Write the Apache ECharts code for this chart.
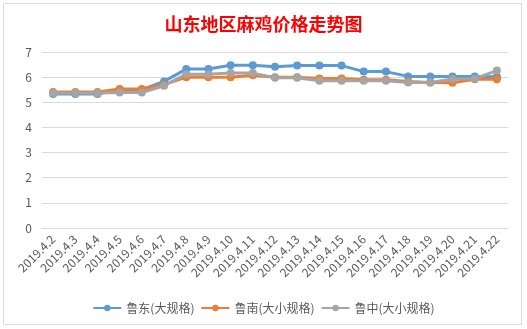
<!DOCTYPE html>
<html><head><meta charset="utf-8">
<script src="https://cdn.jsdelivr.net/npm/echarts@6/dist/echarts.min.js"></script>
<style>html,body{margin:0;padding:0;background:#fff}#c{width:527px;height:329px}</style>
</head><body><div id="c"></div>
<script>
const categories = ['2019.4.2','2019.4.3','2019.4.4','2019.4.5','2019.4.6','2019.4.7','2019.4.8','2019.4.9','2019.4.10','2019.4.11','2019.4.12','2019.4.13','2019.4.14','2019.4.15','2019.4.16','2019.4.17','2019.4.18','2019.4.19','2019.4.20','2019.4.21','2019.4.22'];
const ludong = [5.33,5.33,5.33,5.5,5.5,5.83,6.32,6.32,6.47,6.47,6.41,6.46,6.46,6.46,6.22,6.22,6.03,6.03,6.03,6.03,6.02];
const lunan = [5.41,5.41,5.41,5.53,5.53,5.7,6.0,6.0,6.0,6.08,6.0,6.0,5.95,5.95,5.9,5.9,5.83,5.79,5.78,5.92,5.92];
const luzhong = [5.37,5.37,5.37,5.39,5.39,5.66,6.12,6.12,6.16,6.16,5.98,5.98,5.86,5.86,5.86,5.86,5.79,5.79,5.93,5.94,6.26];
const seriesNames = ['鲁东(大规格)','鲁南(大小规格)','鲁中(大小规格)'];
const yTicks = [0,1,2,3,4,5,6,7];

const chart = echarts.init(document.getElementById('c'), null, {renderer:'canvas'});
const font = '"Microsoft YaHei","Noto Sans CJK SC",sans-serif';
function mk(name, data, color){
  return {name, type:'line', data, symbol:'circle', symbolSize:8,
    lineStyle:{width:3,color}, itemStyle:{color}, emphasis:{disabled:true}};
}
chart.setOption({
  animation:false,
  backgroundColor:'#fff',
  graphic:[{type:'rect', shape:{x:3.5,y:3.5,width:518,height:321}, style:{fill:'none',stroke:'#d9d9d9',lineWidth:1}, silent:true}],
  title:{text:'山东地区麻鸡价格走势图', left:'center', top:10,
    textStyle:{color:'#ff0000', fontSize:18, fontWeight:'bold', fontFamily:'"Noto Sans CJK SC",sans-serif'}},
  grid:{left:42, right:19, top:52, bottom:101, containLabel:false},
  legend:{bottom:10, left:'center', itemWidth:28, itemHeight:8, itemGap:6,
    textStyle:{color:'#595959', fontSize:12, fontFamily:font},
    data:seriesNames},
  xAxis:{type:'category', data:categories, boundaryGap:true,
    axisLine:{show:true,lineStyle:{color:'#d9d9d9'}}, axisTick:{show:false},
    axisLabel:{rotate:45, interval:0, color:'#595959', fontSize:12, fontFamily:font, margin:9}},
  yAxis:{type:'value', min:yTicks[0], max:yTicks[yTicks.length-1], interval:1,
    axisLine:{show:false}, axisTick:{show:false},
    axisLabel:{color:'#595959', fontSize:12, fontFamily:font, margin:10},
    splitLine:{lineStyle:{color:'#d9d9d9'}}},
  series:[mk(seriesNames[0], ludong, '#5B9BD5'), mk(seriesNames[1], lunan, '#ED7D31'), mk(seriesNames[2], luzhong, '#A5A5A5')]
});
</script></body></html>
